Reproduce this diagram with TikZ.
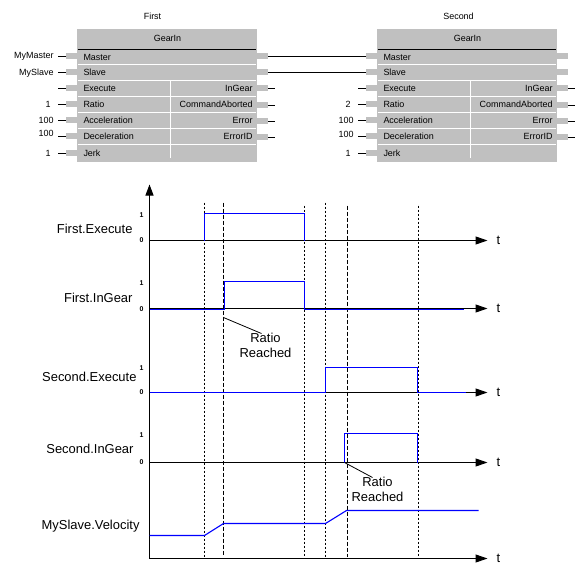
\documentclass[tikz,border=0pt]{standalone}
\usepackage{fontspec}
\setmainfont{Liberation Sans}
\usetikzlibrary{arrows.meta}
\definecolor{blkgray}{HTML}{C0C0C0}
\definecolor{sigblue}{HTML}{0000FF}
\begin{document}
\begin{tikzpicture}[x=1bp,y=-1bp,
  every node/.style={inner sep=0pt, outer sep=0pt},
  blk/.style={font=\fontsize{9}{10}\selectfont},
  pinbox/.style={fill=blkgray, minimum width=11bp, minimum height=6bp},
  wire/.style={black, line width=1bp},
  sepline/.style={white, line width=1bp},
  sig/.style={draw=sigblue, line width=1.1bp, line join=miter},
  taxis/.style={black, line width=1bp, -{Triangle[length=12bp,width=8bp]}},
  tlab/.style={font=\fontsize{13}{15.5}\selectfont},
  lvl/.style={font=\fontsize{7}{8}\selectfont\bfseries},
  vdot/.style={black, line width=1bp, dash pattern=on 2bp off 2bp},
  vdash/.style={black, line width=1bp, dash pattern=on 4bp off 2bp},
]
\useasboundingbox (0,0) rectangle (583,580);
\begin{scope}[shift={(0.5,0.5)}]
% ---------- function blocks ----------
\foreach \X/\P in {77/a,377/b}{
  \fill[blkgray] (\X-0.5,28.5) rectangle (\X+179.5,161.5);
  \node[blk] at (\X+90,38) {GearIn};
  \draw[wire] (\X,49) -- (\X+178,49);
  \foreach \yy in {64,80,96,112,128,144} \draw[sepline] (\X,\yy) -- (\X+178,\yy);
  \draw[sepline] (\X+93,80) -- (\X+93,158);
  \foreach \t/\yy in {Master/57,Slave/72,Execute/88,Ratio/104,Acceleration/120,Deceleration/136,Jerk/153}
    \node[blk,anchor=west] at (\X+6,\yy) {\t};
  \foreach \t/\yy in {InGear/88,CommandAborted/104,Error/120,ErrorID/136}
    \node[blk,anchor=east] at (\X+175,\yy) {\t};
  \foreach \n/\yy in {m/56,s/72,e/88,r/104,a/120,d/136,j/153}{
    \node[pinbox] (\P L\n) at (\X-6,\yy) {};
    \draw[wire] (\P L\n.west) -- ++(-8,0);
  }
  \foreach \n/\yy in {m/56,s/72,i/88,c/105,er/121,id/137}
    \node[pinbox] (\P R\n) at (\X+185,\yy) {};
  \foreach \n in {i,c,er,id}
    \draw[wire] (\P R\n.east) -- ++(7,0);
}
\node[blk] (t1) at (152,16) {First};
\node[blk] (t2) at (458,16) {Second};
\draw[wire] (aRm.east) -- (bLm.west);
\draw[wire] (aRs.east) -- (bLs.west);

\node[blk,anchor=east] (v1) at (53,56) {MyMaster};
\node[blk,anchor=east] (v2) at (53,73) {MySlave};
\node[blk,anchor=east] (v3) at (50,104) {1};
\node[blk,anchor=east] (v4) at (53,120) {100};
\node[blk,anchor=east] (v5) at (53,133) {100};
\node[blk,anchor=east] (v6) at (50,153) {1};
\node[blk,anchor=east] (w3) at (350,104) {2};
\node[blk,anchor=east] (w4) at (353,120) {100};
\node[blk,anchor=east] (w5) at (353,134) {100};
\node[blk,anchor=east] (w6) at (350,153) {1};

% ---------- timing diagram ----------
\foreach \xx/\yt/\st in {204/202/vdot,223/202/vdash,304/205/vdot,325/202/vdot,347/205/vdash,418/205/vdot}
  \draw[\st] (\xx,\yt) -- (\xx,556);

\draw[black, line width=1bp, -{Triangle[length=11bp,width=8bp]}] (149,558) -- (149,184);
\foreach \yy in {240,308,392,462,558}{
  \draw[taxis] (149,\yy) -- (487,\yy);
  \node[tlab] at (498,\yy) {t};
}

% signals
\draw[sig] (204,240) -- (204,213) -- (304,213) -- (304,240);
\draw[sig] (149,309) -- (224,309) -- (224,281) -- (304,281) -- (304,309) -- (463,309);
\draw[sig] (149,392) -- (325,392) -- (325,367) -- (417,367) -- (417,392) -- (465,392);
\draw[sig] (344,462) -- (344,433) -- (417,433) -- (417,462);
\draw[sig] (149,535) -- (204,535) -- (223,523) -- (325,523) -- (346,510) -- (478,510);

% level labels
\foreach \yy/\l in {215/1,240/0,283/1,309/0,368/1,392/0,435/1,462/0}
  \node[lvl] at (141,\yy) {\l};

% signal names
\node[tlab,anchor=east] (n1) at (132,228) {First.Execute};
\node[tlab,anchor=east] (n2) at (132,297) {First.InGear};
\node[tlab,anchor=east] (n3) at (136,376) {Second.Execute};
\node[tlab,anchor=east] (n4) at (133,448) {Second.InGear};
\node[tlab,anchor=east] (n5) at (139,526) {MySlave.Velocity};

% annotations
\node[tlab,align=center] (rr1) at (265,345) {Ratio\\Reached};
\coordinate (e1) at (223,317);
\coordinate (f1) at (261,333);
\draw[black, line width=0.8bp] (e1) -- (f1);
\node[tlab,align=center] (rr2) at (377,489) {Ratio\\Reached};
\coordinate (e2) at (344,462);
\coordinate (f2) at (372,477);
\draw[black, line width=0.8bp] (e2) -- (f2);
\end{scope}
\end{tikzpicture}
\end{document}
